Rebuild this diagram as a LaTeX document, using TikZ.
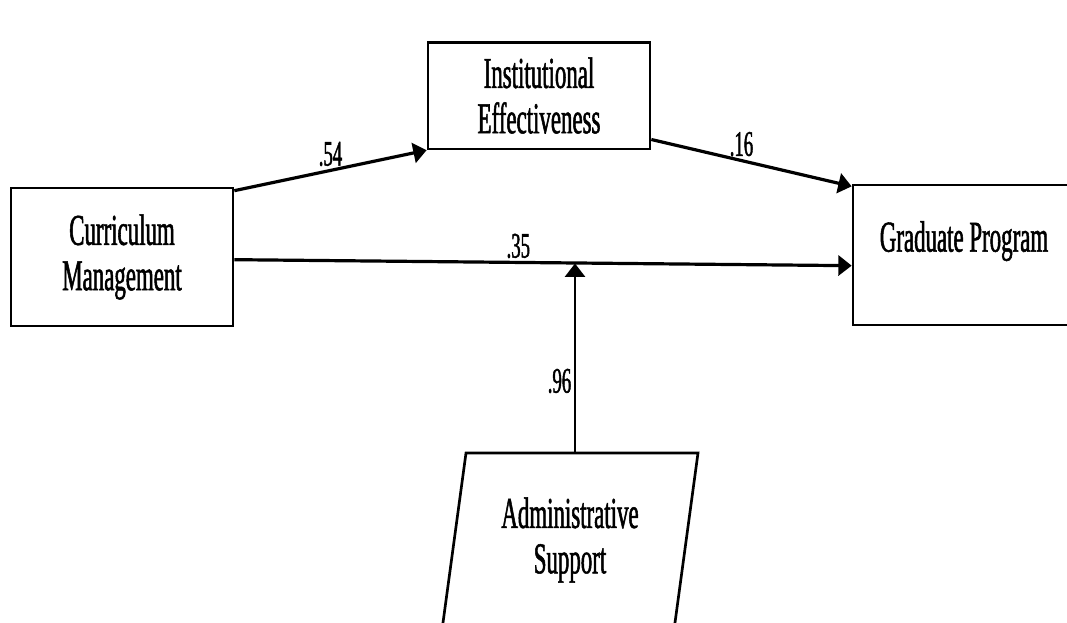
\documentclass[tikz,border=0pt]{standalone}
\usepackage{fontspec}
\usetikzlibrary{arrows.meta}
\newfontfamily\figfont{Liberation Serif}[FakeStretch=0.52, FakeBold=1.2]
\begin{document}
\begin{tikzpicture}[x=0.75pt, y=-0.75pt,
		box/.style={draw, line width=2pt, rectangle, align=center, minimum width=166.5pt, font=\figfont\fontsize{33}{34}\selectfont},
		link/.style={line width=2.4pt, -{Triangle[length=10pt, width=15pt]}},
		weight/.style={font=\figfont\fontsize{27}{28}\selectfont, inner sep=2pt}]
		\clip (0,0) rectangle (1067,622);
		\node[box, minimum height=103.5pt] (cm) at (122,257) {Curriculum\\Management};
		\node[box, minimum height=80pt] (ie) at (539,95.5) {Institutional\\Effectiveness};
		\node[box, minimum height=105pt, text depth=28pt] (gp) at (964,255) {Graduate Program};
		\node[align=center, font=\figfont\fontsize{33}{34}\selectfont] (ad) at (570,540) {Administrative\\Support};
		% parallelogram round the moderator
		\draw[line width=2pt] (466,453) -- (698,453) -- (674,630) -- (442,630) -- cycle;
		\coordinate (adtop) at (575,453);
		\coordinate (join) at (575,263.5);
		\draw[link] ([yshift=-3pt]cm.north east) -- (ie.south west) node[weight, pos=0.5, above] (w1) {.54};
		\draw[link] ([yshift=8pt]ie.south east) -- ([yshift=-2pt]gp.north west) node[weight, pos=0.45, above] (w2) {.16};
		\draw[link] ([yshift=-2pt]cm.east) -- ([yshift=-8pt]gp.west) node[weight, pos=0.46, above] (w3) {.35};
		\draw[link, line width=1.7pt] (adtop) -- (join) node[weight, pos=0.38, left] (w4) {.96};
	\end{tikzpicture}
\end{document}
